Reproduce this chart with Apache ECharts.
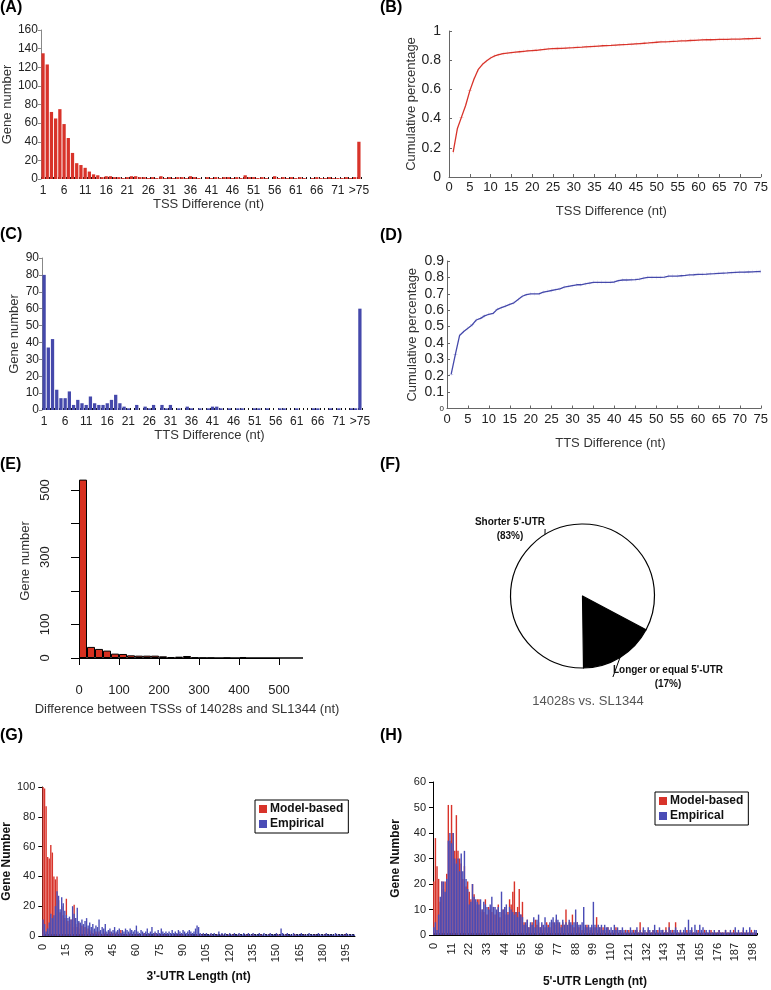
<!DOCTYPE html>
<html><head><meta charset="utf-8">
<script src="https://cdn.jsdelivr.net/npm/echarts@6/dist/echarts.min.js"></script>
<style>html,body{margin:0;padding:0;background:#fff}#c{width:771px;height:990px}</style>
</head><body><div id="c"></div>
<script>
// ---------- DATA ----------
const DIFF_CATS = [];
for (let i = 1; i <= 75; i++) DIFF_CATS.push(String(i));
DIFF_CATS.push('>75');

const TSS_COUNTS = [135,123,72,65,75,59,44,28,17,15,12,8,5,4,2,
  3,3,2,2,1,2,3,3,2,2,1,2,1,3,1,
  2,1,2,2,1,3,2,1,0,2,1,2,1,2,2,
  1,2,1,4,2,2,1,2,1,0,3,1,2,1,2,
  1,2,1,0,1,2,1,1,2,1,1,1,2,1,2,
  40];

const TTS_COUNTS = [80,37,42,12,7,7,11,3,6,4,3,8,4,3,3,4,6,9,4,2,
  1,0,3,0,2,1,3,0,3,1,3,0,1,0,2,1,0,1,0,1,
  2,2,1,0,1,0,1,1,0,0,1,1,0,1,0,0,1,1,0,0,
  1,0,0,0,1,1,0,0,1,0,1,0,0,1,1,
  60];

const TSS_CUM = [0.17,0.33,0.41,0.49,0.59,0.67,0.735,0.77,0.795,0.815,
  0.83,0.838,0.845,0.849,0.852,0.855,0.858,0.861,0.864,0.866,
  0.868,0.871,0.874,0.877,0.879,0.88,0.881,0.883,0.885,0.886,
  0.888,0.889,0.891,0.893,0.895,0.897,0.899,0.9,0.901,0.903,
  0.905,0.907,0.908,0.91,0.912,0.914,0.916,0.918,0.921,0.923,
  0.925,0.926,0.927,0.929,0.93,0.932,0.933,0.935,0.936,0.938,
  0.939,0.94,0.94,0.941,0.942,0.942,0.943,0.944,0.944,0.945,
  0.946,0.947,0.948,0.949,0.95];

const TTS_CUM = [0.21,0.33,0.445,0.47,0.49,0.51,0.54,0.55,0.565,0.575,
  0.58,0.605,0.615,0.625,0.635,0.645,0.665,0.685,0.695,0.7,
  0.7,0.7,0.71,0.715,0.72,0.725,0.73,0.74,0.745,0.75,
  0.755,0.755,0.76,0.765,0.77,0.77,0.77,0.77,0.77,0.772,
  0.78,0.784,0.784,0.785,0.786,0.79,0.795,0.8,0.8,0.8,
  0.8,0.802,0.808,0.808,0.808,0.81,0.812,0.815,0.816,0.818,
  0.819,0.82,0.822,0.823,0.825,0.826,0.827,0.829,0.831,0.832,
  0.832,0.833,0.834,0.835,0.836];

const E_BIN_WIDTH = 20;
const E_BINS = [];
for (let b = 0; b < 28; b++) E_BINS.push(b * E_BIN_WIDTH);
const E_COUNTS = [531,33,27,22,13,12,8,7,7,7,5,3,4,6,2,1,1,0,1,0,3,0,0,0,0,0,0,0];
const E_Y_LABELS_SHOWN = [0,100,300,500];

const PIE_NAMES = ["Longer or equal 5'-UTR", "Shorter 5'-UTR"];
const PIE_VALUES = [17, 83];

const UTR_CATS = [];
for (let i = 0; i <= 200; i++) UTR_CATS.push(String(i));

const UTR3_MODEL = [100,99,87,53,52,61,56,40,38,40,24,16,20,14,12,25,10,8,11,6,
  21,8,6,9,5,7,4,6,3,5,4,3,2,4,3,2,3,2,1,3,
  2,1,2,3,1,2,1,2,3,1,4,2,1,2,1,1,2,1,0,1,
  2,1,1,0,1,2,1,0,1,1,0,1,2,0,1,1,0,1,0,1,
  1,0,1,0,0,1,1,0,1,0,1,0,0,1,0,1,0,0,1,1,
  1,0,1,0,0,1,0,0,1,0,0,0,1,0,0,1,0,0,0,1,
  0,0,1,0,0,0,1,0,0,0,0,1,0,0,0,1,0,0,0,0,
  1,0,0,0,0,1,0,0,0,0,0,1,0,0,0,0,1,0,0,0,
  0,0,1,0,0,0,0,0,1,0,0,0,0,0,0,1,0,0,0,0,
  0,1,0,0,0,0,0,0,1,0,0,0,0,0,1,0,0,0,0,0,0];
const UTR3_EMP = [11,8,3,5,9,15,12,14,20,30,27,18,26,22,17,14,12,13,11,20,
  15,12,19,10,9,11,8,10,12,7,9,6,8,5,7,6,11,4,6,5,
  8,3,4,5,3,4,6,3,4,5,2,4,3,5,4,3,5,4,3,4,
  7,3,2,4,3,2,3,5,2,3,6,2,3,2,4,2,5,3,2,3,
  2,3,2,4,2,3,2,4,3,2,4,3,2,3,4,3,2,3,5,7,
  6,2,1,2,1,2,1,1,2,1,2,1,1,3,1,2,1,2,1,1,
  2,1,1,2,1,1,2,1,1,2,1,1,2,1,1,2,1,1,1,2,
  1,1,2,1,1,1,2,1,1,1,2,1,1,5,2,1,1,2,1,1,
  1,2,1,1,1,1,2,1,1,1,1,2,1,1,1,1,1,2,1,1,
  1,1,2,1,1,1,1,1,2,1,1,1,1,1,1,2,1,1,1,1,1];
const UTR5_MODEL = [21,38,27,22,13,21,18,21,24,51,37,51,40,33,47,33,30,28,22,27,
  19,21,17,14,20,16,12,14,14,9,10,9,14,8,11,10,9,11,8,9,
  12,7,9,10,8,11,9,14,12,17,21,9,11,18,8,13,5,4,6,3,
  4,5,3,6,4,5,3,4,2,3,5,4,3,2,5,4,6,5,3,4,
  5,4,10,3,5,4,8,3,4,5,3,4,2,3,2,4,3,2,3,2,
  3,7,2,3,2,3,1,2,3,2,1,2,1,3,2,1,2,1,1,2,
  1,2,1,1,2,1,2,1,5,1,2,1,1,2,1,1,2,1,1,2,
  1,1,2,1,3,1,5,1,2,1,5,1,1,2,1,1,1,2,1,1,
  2,1,1,1,2,1,1,1,2,1,1,1,2,1,1,1,1,2,1,1,
  1,2,1,1,1,1,2,1,1,1,1,1,2,1,1,1,1,2,1,1,1];
const UTR5_EMP = [3,5,2,8,15,21,21,17,22,37,40,36,40,30,28,30,25,32,25,33,
  22,18,12,13,20,15,14,13,12,14,10,13,12,11,10,12,15,11,11,10,
  11,9,17,10,11,12,8,11,10,9,8,9,7,9,8,7,4,5,6,3,
  5,4,7,3,6,8,3,5,4,7,4,3,5,6,7,5,8,6,5,3,
  6,4,5,4,6,5,4,5,10,5,4,4,5,11,4,3,4,3,4,13,
  4,3,4,3,4,2,4,3,3,2,3,2,4,2,3,2,2,3,2,1,
  2,1,3,2,1,2,3,1,2,1,3,2,1,3,2,1,2,4,2,1,
  3,2,2,1,2,1,3,2,1,2,3,2,1,2,1,2,3,1,6,2,
  3,1,4,2,1,4,2,3,1,2,1,2,1,1,2,1,1,2,1,1,
  1,2,1,1,2,1,1,3,1,2,1,1,3,1,2,1,3,1,1,2,2];

// ---------- STYLE ----------
const FONT = 'Liberation Sans, Arial, Helvetica, sans-serif';
const RED = '#d8332a', BLUE = '#4549ab', BLUE2 = '#4a4cb6';
const GRAY = '#666';
const PLUS = 'path://M0,4.4H9V4.6H0ZM4.4,0H4.6V9H4.4Z';

function catX(grid, name, interval) {
  return {type:'category', gridIndex:grid, data:DIFF_CATS,
    axisLine:{show:false},
    axisTick:{show:true, inside:true, interval:0, length:2, lineStyle:{color:'#111', width:1}},
    axisLabel:{interval:interval, fontSize:12, margin:6, color:'#222', fontFamily:FONT},
    name:name, nameLocation:'middle', nameGap:19,
    nameTextStyle:{fontSize:13, color:'#333', fontFamily:FONT, padding:[0,0,0,15]}};
}
function cumX(grid, name) {
  return {type:'value', gridIndex:grid, min:0, max:75, interval:5,
    axisLine:{show:true, lineStyle:{color:GRAY}},
    axisTick:{show:true, inside:true, length:3, lineStyle:{color:GRAY}},
    axisLabel:{fontSize:13, margin:4, color:'#222', fontFamily:FONT},
    splitLine:{show:false},
    name:name, nameLocation:'middle', nameGap:28,
    nameTextStyle:{fontSize:13, color:'#333', fontFamily:FONT, padding:[0,0,0,13]}};
}
function countY(grid, max, interval, gap) {
  return {type:'value', gridIndex:grid, min:0, max:max, interval:interval,
    axisLine:{show:true, lineStyle:{color:'#888'}},
    axisTick:{show:true, length:3, lineStyle:{color:'#888'}},
    axisLabel:{fontSize:12, margin:3, color:'#222', fontFamily:FONT},
    splitLine:{show:false},
    name:'Gene number', nameLocation:'middle', nameGap:gap,
    nameTextStyle:{fontSize:13, color:'#333', fontFamily:FONT}};
}
function utrX(grid, name, interval, gap) {
  return {type:'category', gridIndex:grid, data:UTR_CATS,
    axisLine:{show:true, lineStyle:{color:'#000'}},
    axisTick:{show:true, inside:true, interval:0, length:2, lineStyle:{color:'#000'}},
    axisLabel:{interval:interval, rotate:90, fontSize:11, margin:8, color:'#222', fontFamily:FONT},
    name:name, nameLocation:'middle', nameGap:gap,
    nameTextStyle:{fontSize:12, fontWeight:'bold', color:'#111', fontFamily:FONT}};
}
function utrY(grid, max, interval, gap) {
  return {type:'value', gridIndex:grid, min:0, max:max, interval:interval,
    axisLine:{show:true, lineStyle:{color:'#000'}},
    axisTick:{show:true, length:4, lineStyle:{color:'#000'}},
    axisLabel:{fontSize:11, margin:7, color:'#222', fontFamily:FONT},
    splitLine:{show:false},
    name:'Gene Number', nameLocation:'middle', nameGap:gap,
    nameTextStyle:{fontSize:12, fontWeight:'bold', color:'#111', fontFamily:FONT}};
}
function utrLegend(left, top) {
  return {data:['Model-based','Empirical'], orient:'vertical', left:left, top:top,
    icon:'rect', itemWidth:8, itemHeight:8, itemGap:3,
    padding:[3,5,3,4], borderColor:'#000', borderWidth:1,
    textStyle:{fontSize:12, fontWeight:'bold', color:'#111', fontFamily:FONT, padding:[0,0,0,-2]}};
}
function letter(t, x, y) {
  return {text:t, left:x, top:y, padding:0,
    textStyle:{fontSize:16, fontWeight:'bold', color:'#000', fontFamily:FONT}};
}

const option = {
  animation:false,
  backgroundColor:'#fff',
  textStyle:{fontFamily:FONT},
  title:[letter('(A)',0,0), letter('(B)',380,0), letter('(C)',0,227), letter('(D)',380,228),
         letter('(E)',0,457), letter('(F)',380,457), letter('(G)',0,728), letter('(H)',380,728),
         {text:'14028s vs. SL1344', left:588, top:695, textAlign:'center', padding:0,
          textStyle:{fontSize:13, fontWeight:'normal', color:'#555', fontFamily:FONT}}],
  legend:[utrLegend(255,800), utrLegend(655,792)],
  grid:[
    {left:40, top:30, width:321, height:149},
    {left:449, top:31, width:315, height:146},
    {left:42, top:258, width:320, height:152},
    {left:447, top:261, width:315, height:147.5},
    {left:79, top:476.6, width:224, height:181.4},
    {left:79, top:490, width:200, height:168},
    {left:42, top:787, width:313, height:149},
    {left:433, top:782, width:324, height:153}
  ],
  xAxis:[
    catX(0,'TSS Difference (nt)',4),
    cumX(1,'TSS Difference (nt)'),
    catX(2,'TTS Difference (nt)',4),
    cumX(3,'TTS Difference (nt)'),
    {type:'category', gridIndex:4, data:E_BINS, show:false},
    {type:'value', gridIndex:5, min:0, max:500, interval:100, offset:9,
      axisLine:{show:true, lineStyle:{color:'#000'}},
      axisTick:{show:true, length:7, lineStyle:{color:'#000'}},
      axisLabel:{fontSize:13, margin:17, color:'#222', fontFamily:FONT},
      splitLine:{show:false},
      name:'Difference between TSSs of 14028s and SL1344 (nt)', nameLocation:'middle', nameGap:36,
      nameTextStyle:{fontSize:13, color:'#333', fontFamily:FONT, padding:[0,0,0,16]}},
    utrX(6,"3'-UTR Length (nt)",14,35),
    utrX(7,"5'-UTR Length (nt)",10,41)
  ],
  yAxis:[
    countY(0,160,20,25),
    {type:'value', gridIndex:1, min:0, max:1, interval:0.2,
      axisLine:{show:true, lineStyle:{color:GRAY}},
      axisTick:{show:true, inside:true, length:3, lineStyle:{color:GRAY}},
      axisLabel:{fontSize:14, margin:8, color:'#222', fontFamily:FONT},
      splitLine:{show:false},
      name:'Cumulative percentage', nameLocation:'middle', nameGap:30,
      nameTextStyle:{fontSize:13, color:'#333', fontFamily:FONT}},
    countY(2,90,10,21),
    {type:'value', gridIndex:3, min:0, max:0.9, interval:0.1,
      axisLine:{show:true, lineStyle:{color:GRAY}},
      axisTick:{show:true, inside:true, length:3, lineStyle:{color:GRAY}},
      axisLabel:{fontSize:14, margin:3, color:'#222', fontFamily:FONT,
        formatter:function(v){ return v === 0 ? '{s|0}' : v.toFixed(1); },
        rich:{s:{fontSize:8, color:'#222'}}},
      splitLine:{show:false},
      name:'Cumulative percentage', nameLocation:'middle', nameGap:28,
      nameTextStyle:{fontSize:13, color:'#333', fontFamily:FONT}},
    {type:'value', gridIndex:4, min:0, max:540, show:false},
    {type:'value', gridIndex:5, min:0, max:500, interval:100, offset:9,
      axisLine:{show:true, lineStyle:{color:'#000'}},
      axisTick:{show:true, length:8, lineStyle:{color:'#000'}},
      axisLabel:{fontSize:13, margin:18, rotate:90, color:'#222', fontFamily:FONT,
        formatter:function(v){ return E_Y_LABELS_SHOWN.indexOf(v) >= 0 ? String(v) : ''; }},
      splitLine:{show:false},
      name:'Gene number', nameLocation:'middle', nameGap:38,
      nameTextStyle:{fontSize:13, color:'#333', fontFamily:FONT, padding:[0,0,0,26]}},
    utrY(6,100,20,27),
    utrY(7,60,10,31)
  ],
  series:[
    {type:'bar', xAxisIndex:0, yAxisIndex:0, data:TSS_COUNTS, barCategoryGap:'22%',
      itemStyle:{color:RED}},
    {type:'line', xAxisIndex:1, yAxisIndex:1, data:TSS_CUM.map((v,i)=>[i+1,v]),
      symbol:PLUS, symbolSize:4, lineStyle:{color:RED, width:1.3}, itemStyle:{color:RED}},
    {type:'bar', xAxisIndex:2, yAxisIndex:2, data:TTS_COUNTS, barCategoryGap:'22%',
      itemStyle:{color:BLUE}},
    {type:'line', xAxisIndex:3, yAxisIndex:3, data:TTS_CUM.map((v,i)=>[i+1,v]),
      symbol:PLUS, symbolSize:4, lineStyle:{color:BLUE, width:1.3}, itemStyle:{color:BLUE}},
    {type:'bar', xAxisIndex:4, yAxisIndex:4, data:E_COUNTS, barCategoryGap:'0%',
      itemStyle:{color:'#d7301f', borderColor:'#000', borderWidth:1}},
    {type:'pie', center:[582.5,596], radius:72, startAngle:-28, clockwise:true,
      data:PIE_NAMES.map((n,i)=>({name:n, value:PIE_VALUES[i]})),
      itemStyle:{borderColor:'#000', borderWidth:1.2},
      color:['#000','#fff'],
      label:{show:true, formatter:'{b}\n({d}%)', fontSize:10, fontWeight:'bold', color:'#111',
        lineHeight:14, fontFamily:FONT, align:'center'},
      labelLine:{show:true, length:3, length2:0, lineStyle:{color:'#000', width:1}},
      labelLayout:function(p){
        return p.dataIndex === 1
          ? {x:510, y:529, align:'center', verticalAlign:'middle'}
          : {x:668, y:677, align:'center', verticalAlign:'middle'};
      },
      emphasis:{disabled:true}},
    {type:'bar', name:'Model-based', xAxisIndex:6, yAxisIndex:6, data:UTR3_MODEL,
      barCategoryGap:'12%', barGap:'-100%', itemStyle:{color:RED}},
    {type:'bar', name:'Empirical', xAxisIndex:6, yAxisIndex:6, data:UTR3_EMP,
      barCategoryGap:'12%', barGap:'-100%', itemStyle:{color:BLUE2}},
    {type:'bar', name:'Model-based', xAxisIndex:7, yAxisIndex:7, data:UTR5_MODEL,
      barCategoryGap:'12%', barGap:'-100%', itemStyle:{color:RED}},
    {type:'bar', name:'Empirical', xAxisIndex:7, yAxisIndex:7, data:UTR5_EMP,
      barCategoryGap:'12%', barGap:'-100%', itemStyle:{color:BLUE2}}
  ]
};
const chart = echarts.init(document.getElementById('c'), null, {renderer:'canvas'});
chart.setOption(option);
</script></body></html>
